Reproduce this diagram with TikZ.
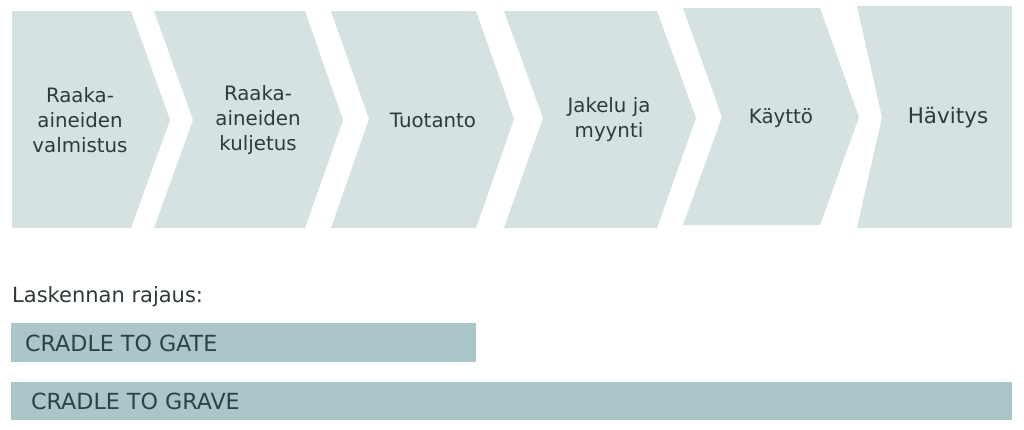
\documentclass[tikz,border=0pt]{standalone}
\usepackage{fontspec}
\setmainfont{DejaVu Sans}
\definecolor{chevfill}{HTML}{D6E1E1}
\definecolor{barfill}{HTML}{ABC6C8}
\definecolor{txt}{HTML}{2F3A3B}
\definecolor{bartxt}{HTML}{2B4345}
\begin{document}
\begin{tikzpicture}[x=1pt,y=-1pt,
  chev/.style={fill=chevfill,draw=none},
  bar/.style={fill=barfill,draw=none},
  steplabel/.style={align=center,text=txt,inner sep=0pt,font=\fontsize{19.8}{25}\selectfont},
  barlabel/.style={anchor=west,text=bartxt,inner sep=0pt,font=\fontsize{22.2}{25}\selectfont},
]
\useasboundingbox[fill=white] (0,0) rectangle (1024,429);
% chevrons
\fill[chev] (12,11) -- (131,11) -- (170,120) -- (131,228) -- (12,228) -- cycle;
\fill[chev] (154,11) -- (305,11) -- (343,120) -- (305,228) -- (154,228) -- (193,120) -- cycle;
\fill[chev] (331,11) -- (476,11) -- (514,119) -- (476,228) -- (331,228) -- (369,119) -- cycle;
\fill[chev] (504,11) -- (657,11) -- (696,118) -- (657,228) -- (504,228) -- (543,118) -- cycle;
\fill[chev] (683,8) -- (820,8) -- (859,117) -- (820,225) -- (683,225) -- (722,117) -- cycle;
\fill[chev] (857,6) -- (1012,6) -- (1012,228) -- (857,228) -- (882,117) -- cycle;
% labels
\node[steplabel] (s1) at (80,120) {Raaka-\\aineiden\\valmistus};
\node[steplabel] (s2) at (258,120) {Raaka-\\aineiden\\kuljetus};
\node[steplabel] (s3) at (433,120) {Tuotanto};
\node[steplabel] (s4) at (609,120) {Jakelu ja\\myynti};
\node[steplabel] (s5) at (781,118) {Käyttö};
\node[steplabel,font=\fontsize{21.5}{25}\selectfont] (s6) at (948,118) {Hävitys};
% scope
\node[anchor=west,text=txt,inner sep=0pt,font=\fontsize{21}{25}\selectfont] (lr) at (12,297) {Laskennan rajaus:};
\fill[bar] (11,323) rectangle (476,362);
\node[barlabel] (b1) at (25,343) {CRADLE TO GATE};
\fill[bar] (11,382) rectangle (1012,420);
\node[barlabel] (b2) at (31,401) {CRADLE TO GRAVE};
\end{tikzpicture}
\end{document}
